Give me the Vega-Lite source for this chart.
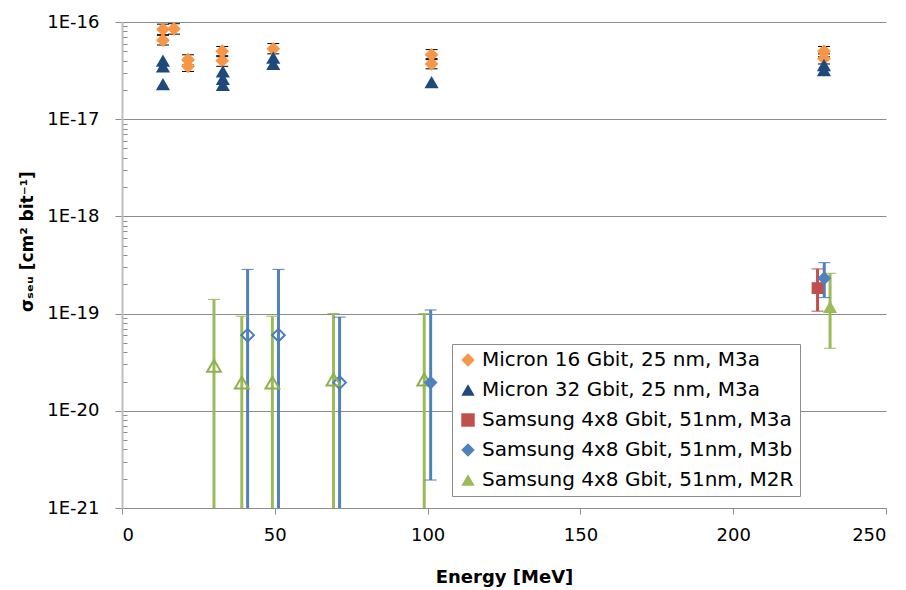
{
  "$schema": "https://vega.github.io/schema/vega-lite/v6.json",
  "width": 764,
  "height": 486,
  "autosize": "none",
  "padding": {"left": 122, "top": 22, "right": 20, "bottom": 82},
  "background": "white",
  "config": {
    "view": {"stroke": null},
    "font": "DejaVu Sans",
    "legend": {
      "orient": "none",
      "legendX": 330,
      "legendY": 322,
      "padding": 6,
      "strokeColor": "#8c8c8c",
      "fillColor": "white",
      "labelFont": "DejaVu Sans",
      "labelFontSize": 20,
      "labelColor": "#000000",
      "labelLimit": 400,
      "labelOffset": 4,
      "symbolSize": 180,
      "symbolStrokeWidth": 0,
      "rowPadding": 10,
      "title": null
    }
  },
  "data": {
    "values": [
      {"series": "Micron 16 Gbit, 25 nm, M3a", "energy": 13.4, "sigma": 8.4e-17, "lo": 7.4e-17, "hi": 9.5e-17, "open": false},
      {"series": "Micron 16 Gbit, 25 nm, M3a", "energy": 13.4, "sigma": 6.5e-17, "lo": 5.8e-17, "hi": 7.3e-17, "open": false},
      {"series": "Micron 16 Gbit, 25 nm, M3a", "energy": 17.0, "sigma": 8.5e-17, "lo": 7.5e-17, "hi": 9.6e-17, "open": false},
      {"series": "Micron 16 Gbit, 25 nm, M3a", "energy": 21.6, "sigma": 4.1e-17, "lo": 3.6e-17, "hi": 4.6e-17, "open": false},
      {"series": "Micron 16 Gbit, 25 nm, M3a", "energy": 21.6, "sigma": 3.5e-17, "lo": 3.1e-17, "hi": 4.0e-17, "open": false},
      {"series": "Micron 16 Gbit, 25 nm, M3a", "energy": 32.8, "sigma": 5.0e-17, "lo": 4.4e-17, "hi": 5.6e-17, "open": false},
      {"series": "Micron 16 Gbit, 25 nm, M3a", "energy": 32.8, "sigma": 4.0e-17, "lo": 3.5e-17, "hi": 4.5e-17, "open": false},
      {"series": "Micron 16 Gbit, 25 nm, M3a", "energy": 49.5, "sigma": 5.3e-17, "lo": 4.7e-17, "hi": 6.0e-17, "open": false},
      {"series": "Micron 16 Gbit, 25 nm, M3a", "energy": 101.3, "sigma": 4.6e-17, "lo": 4.1e-17, "hi": 5.2e-17, "open": false},
      {"series": "Micron 16 Gbit, 25 nm, M3a", "energy": 101.3, "sigma": 3.7e-17, "lo": 3.3e-17, "hi": 4.2e-17, "open": false},
      {"series": "Micron 16 Gbit, 25 nm, M3a", "energy": 229.7, "sigma": 5.0e-17, "lo": 4.4e-17, "hi": 5.6e-17, "open": false},
      {"series": "Micron 16 Gbit, 25 nm, M3a", "energy": 229.7, "sigma": 4.2e-17, "lo": 3.7e-17, "hi": 4.7e-17, "open": false},
      {"series": "Micron 32 Gbit, 25 nm, M3a", "energy": 13.4, "sigma": 4.0e-17, "open": false},
      {"series": "Micron 32 Gbit, 25 nm, M3a", "energy": 13.4, "sigma": 3.5e-17, "open": false},
      {"series": "Micron 32 Gbit, 25 nm, M3a", "energy": 13.4, "sigma": 2.3e-17, "open": false},
      {"series": "Micron 32 Gbit, 25 nm, M3a", "energy": 33.0, "sigma": 3.1e-17, "open": false},
      {"series": "Micron 32 Gbit, 25 nm, M3a", "energy": 33.0, "sigma": 2.6e-17, "open": false},
      {"series": "Micron 32 Gbit, 25 nm, M3a", "energy": 33.0, "sigma": 2.25e-17, "open": false},
      {"series": "Micron 32 Gbit, 25 nm, M3a", "energy": 49.5, "sigma": 4.3e-17, "open": false},
      {"series": "Micron 32 Gbit, 25 nm, M3a", "energy": 49.5, "sigma": 3.7e-17, "open": false},
      {"series": "Micron 32 Gbit, 25 nm, M3a", "energy": 101.3, "sigma": 2.4e-17, "open": false},
      {"series": "Micron 32 Gbit, 25 nm, M3a", "energy": 229.7, "sigma": 3.6e-17, "open": false},
      {"series": "Micron 32 Gbit, 25 nm, M3a", "energy": 229.7, "sigma": 3.2e-17, "open": false},
      {"series": "Samsung 4x8 Gbit, 51nm, M3a", "energy": 227.6, "sigma": 1.83e-19, "lo": 1.06e-19, "hi": 2.88e-19, "open": false},
      {"series": "Samsung 4x8 Gbit, 51nm, M3b", "energy": 41.1, "sigma": 6.0e-20, "lo": 1e-22, "hi": 2.85e-19, "open": true},
      {"series": "Samsung 4x8 Gbit, 51nm, M3b", "energy": 51.2, "sigma": 6.0e-20, "lo": 1e-22, "hi": 2.85e-19, "open": true},
      {"series": "Samsung 4x8 Gbit, 51nm, M3b", "energy": 71.2, "sigma": 1.95e-20, "lo": 1e-22, "hi": 9.2e-20, "open": true},
      {"series": "Samsung 4x8 Gbit, 51nm, M3b", "energy": 101.0, "sigma": 1.95e-20, "lo": 1.94e-21, "hi": 1.09e-19, "open": false},
      {"series": "Samsung 4x8 Gbit, 51nm, M3b", "energy": 229.8, "sigma": 2.31e-19, "lo": 1.46e-19, "hi": 3.34e-19, "open": false},
      {"series": "Samsung 4x8 Gbit, 51nm, M2R", "energy": 30.1, "sigma": 2.9e-20, "lo": 1e-22, "hi": 1.4e-19, "open": true},
      {"series": "Samsung 4x8 Gbit, 51nm, M2R", "energy": 39.2, "sigma": 1.95e-20, "lo": 1e-22, "hi": 9.4e-20, "open": true},
      {"series": "Samsung 4x8 Gbit, 51nm, M2R", "energy": 49.2, "sigma": 1.95e-20, "lo": 1e-22, "hi": 9.4e-20, "open": true},
      {"series": "Samsung 4x8 Gbit, 51nm, M2R", "energy": 69.2, "sigma": 2.1e-20, "lo": 1e-22, "hi": 1.0e-19, "open": true},
      {"series": "Samsung 4x8 Gbit, 51nm, M2R", "energy": 98.9, "sigma": 2.1e-20, "lo": 1e-22, "hi": 1.0e-19, "open": true},
      {"series": "Samsung 4x8 Gbit, 51nm, M2R", "energy": 231.7, "sigma": 1.17e-19, "lo": 4.4e-20, "hi": 2.6e-19, "open": false}
    ]
  },
  "encoding": {
    "x": {
      "field": "energy",
      "type": "quantitative",
      "scale": {"domain": [0, 250], "nice": false, "zero": false},
      "axis": {
        "values": [0, 50, 100, 150, 200, 250],
        "grid": false,
        "domainColor": "#8c8c8c",
        "domainWidth": 1,
        "tickColor": "#8c8c8c",
        "tickSize": 6,
        "labelFont": "DejaVu Sans",
        "labelFontSize": 18,
        "labelColor": "#000000",
        "labelPadding": 12,
        "title": "Energy [MeV]",
        "titleFont": "DejaVu Sans",
        "titleFontSize": 18,
        "titleFontWeight": "bold",
        "titleColor": "#000000",
        "titlePadding": 24
      }
    }
  },
  "layer": [
    {
      "transform": [{"filter": "isValid(datum.hi)"}],
      "mark": {"type": "rule", "clip": true},
      "encoding": {
        "y": {"field": "lo", "type": "quantitative", "scale": {"type": "log", "domain": [1e-21, 1e-16], "nice": false}},
        "y2": {"field": "hi"},
        "stroke": {
          "condition": [
            {"test": "datum.series === 'Micron 16 Gbit, 25 nm, M3a'", "value": "#000000"},
            {"test": "datum.series === 'Samsung 4x8 Gbit, 51nm, M3a'", "value": "#c0504d"},
            {"test": "datum.series === 'Samsung 4x8 Gbit, 51nm, M3b'", "value": "#4f81bd"}
          ],
          "value": "#9bbb59"
        },
        "strokeWidth": {
          "condition": {"test": "datum.series === 'Micron 16 Gbit, 25 nm, M3a'", "value": 1},
          "value": 3
        }
      }
    },
    {
      "transform": [{"filter": "isValid(datum.hi)"}],
      "mark": {"type": "tick", "orient": "horizontal", "clip": true, "size": 12, "opacity": 1},
      "encoding": {
        "y": {"field": "hi", "type": "quantitative"},
        "fill": {
          "condition": [
            {"test": "datum.series === 'Micron 16 Gbit, 25 nm, M3a'", "value": "#000000"},
            {"test": "datum.series === 'Samsung 4x8 Gbit, 51nm, M3a'", "value": "#c0504d"},
            {"test": "datum.series === 'Samsung 4x8 Gbit, 51nm, M3b'", "value": "#4f81bd"}
          ],
          "value": "#9bbb59"
        },
        "thickness": {
          "condition": {"test": "datum.series === 'Micron 16 Gbit, 25 nm, M3a'", "value": 1.5},
          "value": 3
        }
      }
    },
    {
      "transform": [{"filter": "isValid(datum.lo)"}],
      "mark": {"type": "tick", "orient": "horizontal", "clip": true, "size": 12, "opacity": 1},
      "encoding": {
        "y": {"field": "lo", "type": "quantitative"},
        "fill": {
          "condition": [
            {"test": "datum.series === 'Micron 16 Gbit, 25 nm, M3a'", "value": "#000000"},
            {"test": "datum.series === 'Samsung 4x8 Gbit, 51nm, M3a'", "value": "#c0504d"},
            {"test": "datum.series === 'Samsung 4x8 Gbit, 51nm, M3b'", "value": "#4f81bd"}
          ],
          "value": "#9bbb59"
        },
        "thickness": {
          "condition": {"test": "datum.series === 'Micron 16 Gbit, 25 nm, M3a'", "value": 1.5},
          "value": 3
        }
      }
    },
    {
      "transform": [{"filter": "datum.open"}],
      "mark": {"type": "point", "filled": false, "strokeWidth": 2, "opacity": 1},
      "encoding": {
        "y": {"field": "sigma", "type": "quantitative"},
        "stroke": {
          "condition": {"test": "datum.series === 'Samsung 4x8 Gbit, 51nm, M3b'", "value": "#4a7cc0"},
          "value": "#8fb04e"
        },
        "shape": {
          "condition": {"test": "datum.series === 'Samsung 4x8 Gbit, 51nm, M3b'", "value": "diamond"},
          "value": "triangle-up"
        },
        "size": {
          "condition": {"test": "datum.series === 'Samsung 4x8 Gbit, 51nm, M3b'", "value": 160},
          "value": 190
        }
      }
    },
    {
      "transform": [{"filter": "!datum.open"}],
      "mark": {"type": "point", "filled": true, "opacity": 1},
      "encoding": {
        "y": {
          "field": "sigma",
          "type": "quantitative",
          "axis": {
            "values": [1e-21, 2e-21, 3e-21, 4e-21, 5e-21, 6e-21, 7e-21, 8e-21, 9e-21,
                       1e-20, 2e-20, 3e-20, 4e-20, 5e-20, 6e-20, 7e-20, 8e-20, 9e-20,
                       1e-19, 2e-19, 3e-19, 4e-19, 5e-19, 6e-19, 7e-19, 8e-19, 9e-19,
                       1e-18, 2e-18, 3e-18, 4e-18, 5e-18, 6e-18, 7e-18, 8e-18, 9e-18,
                       1e-17, 2e-17, 3e-17, 4e-17, 5e-17, 6e-17, 7e-17, 8e-17, 9e-17,
                       1e-16],
            "labelExpr": "abs(log(datum.value) / LN10 - round(log(datum.value) / LN10)) < 0.001 ? '1E' + round(log(datum.value) / LN10) : ''",
            "grid": true,
            "gridColor": "#8c8c8c",
            "gridWidth": 1,
            "gridOpacity": {"condition": {"test": "abs(log(datum.value) / LN10 - round(log(datum.value) / LN10)) < 0.001", "value": 1}, "value": 0},
            "tickSize": {"condition": {"test": "abs(log(datum.value) / LN10 - round(log(datum.value) / LN10)) < 0.001", "value": 7}, "value": -5},
            "tickColor": "#8c8c8c",
            "domainColor": "#bfbfbf",
            "domainWidth": 2,
            "labelFont": "DejaVu Sans",
            "labelFontSize": 18,
            "labelColor": "#000000",
            "labelPadding": 16,
            "labelOverlap": false,
            "labelBound": false,
            "title": "σₛₑᵤ [cm² bit⁻¹]",
            "titleFont": "DejaVu Sans",
            "titleFontSize": 17,
            "titleFontWeight": "bold",
            "titleColor": "#000000",
            "titlePadding": 10,
            "titleY": 219
          }
        },
        "color": {
          "field": "series",
          "type": "nominal",
          "scale": {
            "domain": ["Micron 16 Gbit, 25 nm, M3a", "Micron 32 Gbit, 25 nm, M3a", "Samsung 4x8 Gbit, 51nm, M3a", "Samsung 4x8 Gbit, 51nm, M3b", "Samsung 4x8 Gbit, 51nm, M2R"],
            "range": ["#f79646", "#1f497d", "#c0504d", "#4f81bd", "#9bbb59"]
          }
        },
        "shape": {
          "field": "series",
          "type": "nominal",
          "scale": {
            "domain": ["Micron 16 Gbit, 25 nm, M3a", "Micron 32 Gbit, 25 nm, M3a", "Samsung 4x8 Gbit, 51nm, M3a", "Samsung 4x8 Gbit, 51nm, M3b", "Samsung 4x8 Gbit, 51nm, M2R"],
            "range": ["diamond", "triangle-up", "square", "diamond", "triangle-up"]
          }
        },
        "size": {
          "condition": [
            {"test": "datum.series === 'Samsung 4x8 Gbit, 51nm, M3a'", "value": 140},
            {"test": "datum.series === 'Micron 32 Gbit, 25 nm, M3a' || datum.series === 'Samsung 4x8 Gbit, 51nm, M2R'", "value": 200}
          ],
          "value": 190
        }
      }
    }
  ]
}
